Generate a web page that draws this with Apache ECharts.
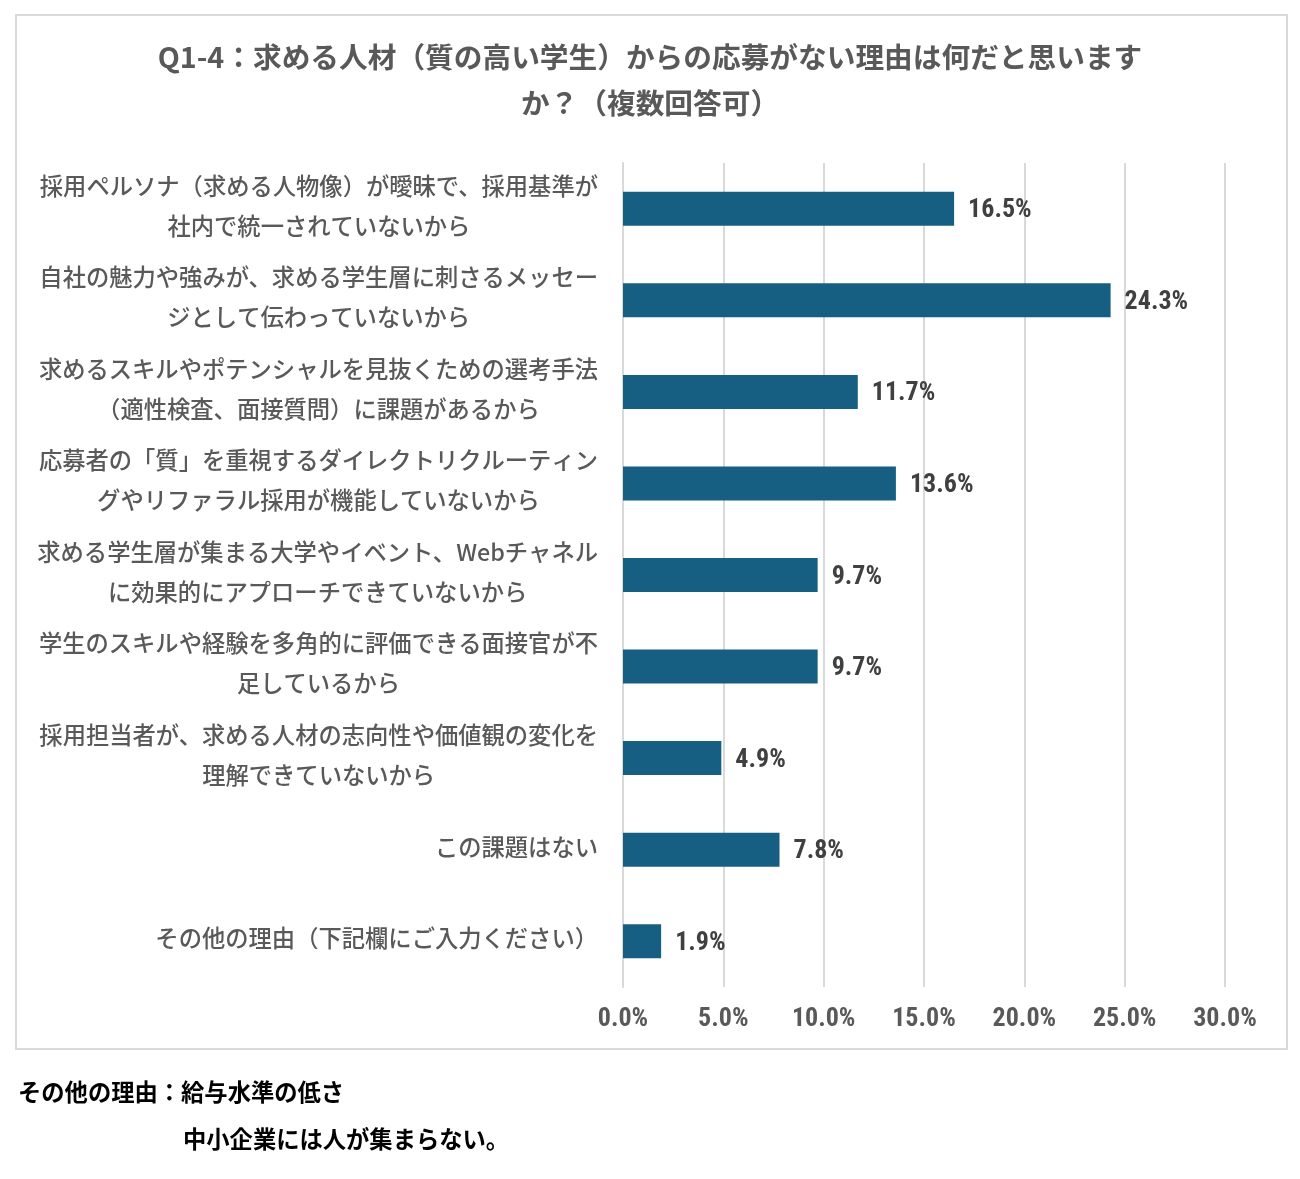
<!DOCTYPE html>
<html>
<head>
<meta charset="utf-8">
<script src="https://cdn.jsdelivr.net/npm/echarts@6/dist/echarts.min.js"></script>
<style>
html,body{margin:0;padding:0;background:#fff;}
#c{width:1300px;height:1179px;}
</style>
</head>
<body>
<div id="c"></div>
<script>
const titleLines = ['Q1-4：求める人材（質の高い学生）からの応募がない理由は何だと思います', 'か？（複数回答可）'];
const categories = [
  ['採用ペルソナ（求める人物像）が曖昧で、採用基準が', '社内で統一されていないから'],
  ['自社の魅力や強みが、求める学生層に刺さるメッセー', 'ジとして伝わっていないから'],
  ['求めるスキルやポテンシャルを見抜くための選考手法', '（適性検査、面接質問）に課題があるから'],
  ['応募者の「質」を重視するダイレクトリクルーティン', 'グやリファラル採用が機能していないから'],
  ['求める学生層が集まる大学やイベント、Webチャネル', 'に効果的にアプローチできていないから'],
  ['学生のスキルや経験を多角的に評価できる面接官が不', '足しているから'],
  ['採用担当者が、求める人材の志向性や価値観の変化を', '理解できていないから'],
  ['この課題はない'],
  ['その他の理由（下記欄にご入力ください）']
];
const values = [16.5, 24.3, 11.7, 13.6, 9.7, 9.7, 4.9, 7.8, 1.9];
const xTicks = [0, 5, 10, 15, 20, 25, 30];
const noteLines = ['その他の理由：給与水準の低さ', '中小企業には人が集まらない。'];

const chart = echarts.init(document.getElementById('c'), null, {renderer: 'canvas'});
const JP = '"Noto Sans CJK JP", "Noto Sans", sans-serif';
const NUM = '"Liberation Sans Narrow", "Roboto Condensed", "Noto Sans CJK JP", sans-serif';

chart.setOption({
  backgroundColor: '#ffffff',
  animation: false,
  graphic: [
    {type: 'rect', shape: {x: 16, y: 15, width: 1271, height: 1034},
     style: {fill: 'none', stroke: '#d9d9d9', lineWidth: 2}, z: -1},
    {type: 'text', left: 18, top: 1080,
     style: {text: noteLines[0], font: 'bold 23.3px ' + JP, fill: '#000000'}},
    {type: 'text', left: 183, top: 1127,
     style: {text: noteLines[1], font: 'bold 23.3px ' + JP, fill: '#000000'}}
  ],
  title: {
    text: titleLines.join('\n'),
    left: 'center',
    top: 29,
    textStyle: {fontFamily: JP, fontSize: 28.7, fontWeight: 'bold', color: '#595959', lineHeight: 46}
  },
  grid: {left: 623, right: 75, top: 163, bottom: 192, containLabel: false},
  xAxis: {
    type: 'value',
    min: 0, max: 30, interval: 5,
    axisLine: {show: false},
    axisTick: {show: false},
    splitLine: {show: true, lineStyle: {color: '#d9d9d9', width: 2}},
    axisLabel: {
      margin: 19,
      fontFamily: NUM, fontSize: 26, color: '#595959', fontWeight: 'bold',
      formatter: v => xTicks.includes(v) ? v.toFixed(1) + '%' : ''
    }
  },
  yAxis: {
    type: 'category',
    inverse: true,
    data: categories.map(c => c.join('\n')),
    axisLine: {show: true, lineStyle: {color: '#d9d9d9', width: 2}},
    axisTick: {show: false},
    axisLabel: {
      margin: 25,
      align: 'right',
      padding: [0, 0, 6, 0],
      formatter: v => v.split('\n').map(s => '{a|' + s + '}').join('\n'),
      rich: {
        a: {fontFamily: JP, fontSize: 23.3, color: '#595959', fontWeight: 500, lineHeight: 40, align: 'center'}
      }
    }
  },
  series: [{
    type: 'bar',
    data: values,
    barWidth: 34,
    itemStyle: {color: '#175f82'},
    label: {
      show: true,
      position: 'right',
      distance: 14,
      offset: [0, 2],
      fontFamily: NUM, fontSize: 26, fontWeight: 'bold', color: '#404040',
      formatter: p => p.value.toFixed(1) + '%'
    }
  }]
});
</script>
</body>
</html>
